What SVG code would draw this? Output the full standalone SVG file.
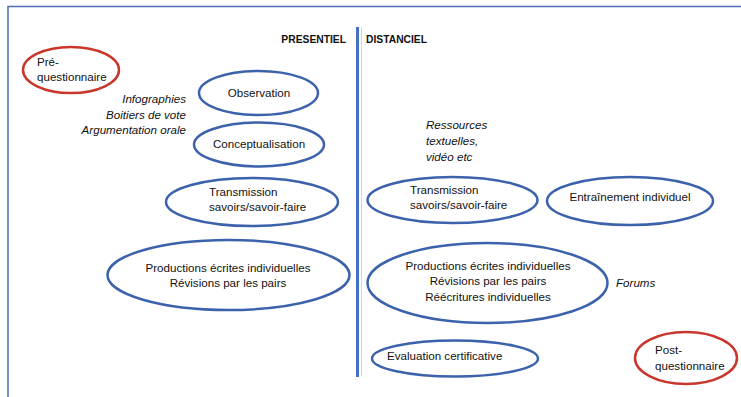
<svg xmlns="http://www.w3.org/2000/svg" width="741" height="397" viewBox="0 0 741 397">
<style>
.b{fill:#fff;stroke:#3D62AC;stroke-width:2.5}
.r{fill:none;stroke:#C9372C;stroke-width:2.5}
text{font-family:"Liberation Sans",Arial,sans-serif;font-size:11.6px;fill:#111}
.c{text-anchor:middle}
.e{text-anchor:end}
.i{font-style:italic}
.h{font-weight:bold;font-size:10.3px}
</style>
<rect width="741" height="397" fill="#fff"/>
<g id="frame">
<path d="M8,397 V6.5 H741" fill="none" stroke="#4A6DB3" stroke-width="1.5"/>
<line x1="361.5" y1="27" x2="361.5" y2="376" stroke="#C7D5EE" stroke-width="1"/>
<line x1="357.5" y1="27" x2="357.5" y2="377" stroke="#4472C4" stroke-width="3"/>
<text class="h e" x="346" y="43">PRESENTIEL</text>
<text class="h" x="366" y="43">DISTANCIEL</text>
</g>
<g id="connectors"></g>
<g id="pre">
<ellipse class="r" cx="71" cy="70" rx="48" ry="23"/>
<text x="37" y="66">Pré-</text>
<text x="37" y="81">questionnaire</text>
</g>
<g id="tools-left">
<text class="i e" x="186" y="103">Infographies</text>
<text class="i e" x="186" y="119">Boitiers de vote</text>
<text class="i e" x="186" y="134">Argumentation orale</text>
</g>
<g id="observation">
<ellipse class="b" cx="258.5" cy="93" rx="59.5" ry="22"/>
<text class="c" x="259" y="97">Observation</text>
</g>
<g id="conceptualisation">
<ellipse class="b" cx="259" cy="144.5" rx="65" ry="22"/>
<text class="c" x="259" y="148">Conceptualisation</text>
</g>
<g id="transmission-p">
<ellipse class="b" cx="252" cy="202" rx="86" ry="24"/>
<text x="209" y="196">Transmission</text>
<text x="209" y="211">savoirs/savoir-faire</text>
</g>
<g id="productions-p">
<ellipse class="b" cx="228.5" cy="275" rx="121" ry="35"/>
<text class="c" x="228" y="272">Productions écrites individuelles</text>
<text class="c" x="228" y="287">Révisions par les pairs</text>
</g>
<g id="ressources">
<text class="i" x="426" y="129">Ressources</text>
<text class="i" x="426" y="145">textuelles,</text>
<text class="i" x="426" y="161">vidéo etc</text>
</g>
<g id="transmission-d">
<ellipse class="b" cx="452.5" cy="200" rx="85" ry="23"/>
<text x="410" y="194">Transmission</text>
<text x="410" y="209">savoirs/savoir-faire</text>
</g>
<g id="entrainement">
<ellipse class="b" cx="630" cy="201" rx="83" ry="24"/>
<text class="c" x="630" y="201">Entraînement individuel</text>
</g>
<g id="productions-d">
<ellipse class="b" cx="487.5" cy="283" rx="120" ry="40"/>
<text class="c" x="488" y="270">Productions écrites individuelles</text>
<text class="c" x="488" y="285">Révisions par les pairs</text>
<text class="c" x="488" y="301">Réécritures individuelles</text>
</g>
<g id="forums">
<text class="i" x="616" y="287">Forums</text>
</g>
<g id="evaluation">
<ellipse class="b" cx="455" cy="358.5" rx="83" ry="18"/>
<text x="387" y="360">Evaluation certificative</text>
</g>
<g id="post">
<ellipse class="r" cx="686" cy="358" rx="51" ry="26"/>
<text x="655" y="354">Post-</text>
<text x="655" y="370">questionnaire</text>
</g>
</svg>
